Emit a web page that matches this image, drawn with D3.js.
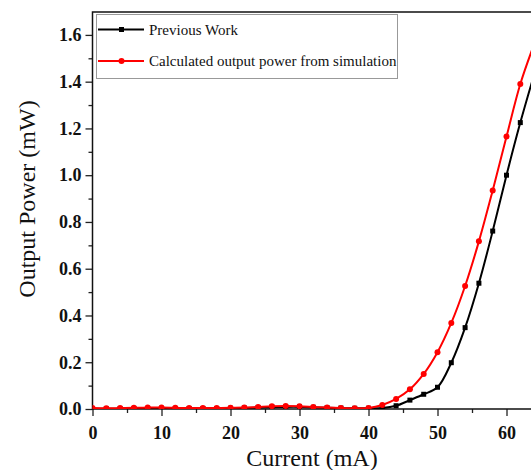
<!DOCTYPE html>
<html>
<head>
<meta charset="utf-8">
<script src="https://cdn.jsdelivr.net/npm/d3@7"></script>
<style>
  body { margin: 0; background: #fff; }
  .tickText { font-family: "Liberation Serif", serif; font-weight: bold; font-size: 18px; fill: #111; }
  .aTitle { font-family: "Liberation Serif", serif; font-size: 24px; fill: #111; }
  .legText { font-family: "Liberation Serif", serif; font-size: 15px; fill: #111; }
</style>
</head>
<body>
<div id="chart"></div>
<script>
// Data ==========================================
// current in mA, every 2 mA
var current = [0, 2, 4, 6, 8, 10, 12, 14, 16, 18, 20, 22, 24, 26, 28, 30, 32,
  34, 36, 38, 40, 42, 44, 46, 48, 50, 52, 54, 56, 58, 60, 62, 64];

// previous work (black squares)
var previousWork = [0.001, 0.001, 0.001, 0.002, 0.002, 0.002, 0.002, 0.002, 0.002,
  0.002, 0.003, 0.004, 0.006, 0.008, 0.009, 0.009, 0.007, 0.005, 0.004, 0.003,
  0.003, 0.004, 0.014, 0.038, 0.063, 0.093, 0.198, 0.348, 0.538, 0.761, 1.0,
  1.225, 1.43];

// simulation (red circles)
var simulation = [0.004, 0.003, 0.004, 0.005, 0.006, 0.006, 0.005, 0.004, 0.004,
  0.004, 0.005, 0.006, 0.009, 0.012, 0.013, 0.012, 0.009, 0.006, 0.004, 0.003,
  0.004, 0.017, 0.043, 0.084, 0.15, 0.243, 0.368, 0.526, 0.717, 0.935, 1.165,
  1.39, 1.56];

var xTicks = [0, 10, 20, 30, 40, 50, 60];
var yTicks = [0.0, 0.2, 0.4, 0.6, 0.8, 1.0, 1.2, 1.4, 1.6];

var seriesNames = ["Previous Work", "Calculated output power from simulation"];

// Canvas =========================================
var width = 531;
var height = 470;

// plot area edges (window.top is reserved, so prefix them)
var plotLeft = 92.5;
var plotRight = 531;
var plotTop = 12;
var plotBottom = 409;

var svg = d3.select("#chart")
  .append("svg")
  .attr("width", width)
  .attr("height", height);

// Scales
var xScale = d3.scaleLinear()
  .domain([0, 63.55])
  .range([plotLeft, plotRight]);

var yScale = d3.scaleLinear()
  .domain([0, 1.698])
  .range([plotBottom, plotTop]);

// clip for the curves
svg.append("clipPath")
  .attr("id", "plotClip")
  .append("rect")
  .attr("x", plotLeft)
  .attr("y", plotTop)
  .attr("width", plotRight - plotLeft)
  .attr("height", plotBottom - plotTop);

// Axes ============================================
// minor ticks first (no labels)
var xMinor = d3.axisBottom(xScale)
  .tickValues(d3.range(5, 64, 10))
  .tickSize(4)
  .tickFormat("");

var yMinor = d3.axisLeft(yScale)
  .tickValues(d3.range(0.1, 1.7, 0.2))
  .tickSize(4)
  .tickFormat("");

var xAxis = d3.axisBottom(xScale)
  .tickValues(xTicks)
  .tickSize(7)
  .tickPadding(10)
  .tickFormat(d3.format("d"));

var yAxis = d3.axisLeft(yScale)
  .tickValues(yTicks)
  .tickSize(7)
  .tickPadding(4)
  .tickFormat(d3.format(".1f"));

function styleAxis(g) {
  g.select(".domain").remove();
  g.selectAll(".tick line").attr("stroke", "#222").attr("stroke-width", 1.3);
  g.selectAll(".tick text").attr("class", "tickText");
  g.attr("font-family", null).attr("font-size", null);
}

svg.append("g")
  .attr("transform", `translate(0, ${plotBottom})`)
  .call(xMinor)
  .call(styleAxis);

svg.append("g")
  .attr("transform", `translate(${plotLeft}, 0)`)
  .call(yMinor)
  .call(styleAxis);

svg.append("g")
  .attr("transform", `translate(0, ${plotBottom})`)
  .call(xAxis)
  .call(styleAxis);

svg.append("g")
  .attr("transform", `translate(${plotLeft}, 0)`)
  .call(yAxis)
  .call(styleAxis);

// frame lines (left, bottom, top)
svg.append("path")
  .attr("d", `M${plotRight},${plotTop}H${plotLeft}V${plotBottom}H${plotRight}`)
  .attr("fill", "none")
  .attr("stroke", "#111")
  .attr("stroke-width", 1.5);

// Axis titles
svg.append("text")
  .attr("class", "aTitle")
  .attr("x", 312)
  .attr("y", 466)
  .attr("text-anchor", "middle")
  .text("Current (mA)");

svg.append("text")
  .attr("class", "aTitle")
  .attr("transform", "translate(35, 199) rotate(-90)")
  .attr("text-anchor", "middle")
  .text("Output Power (mW)");

// Curves ==========================================
var plot = svg.append("g").attr("clip-path", "url(#plotClip)");

var line = d3.line()
  .x(function(d) { return xScale(d[0]); })
  .y(function(d) { return yScale(d[1]); })
  .curve(d3.curveCatmullRom);

var blackData = current.map(function(c, i) { return [c, previousWork[i]]; });
var redData = current.map(function(c, i) { return [c, simulation[i]]; });

plot.append("path")
  .datum(blackData)
  .attr("d", line)
  .attr("fill", "none")
  .attr("stroke", "#000")
  .attr("stroke-width", 2);

plot.selectAll(".sq")
  .data(blackData)
  .enter()
  .append("rect")
  .attr("class", "sq")
  .attr("x", function(d) { return xScale(d[0]) - 2.5; })
  .attr("y", function(d) { return yScale(d[1]) - 2.5; })
  .attr("width", 5)
  .attr("height", 5)
  .attr("fill", "#000");

plot.append("path")
  .datum(redData)
  .attr("d", line)
  .attr("fill", "none")
  .attr("stroke", "#ff0000")
  .attr("stroke-width", 2);

plot.selectAll(".dot")
  .data(redData)
  .enter()
  .append("circle")
  .attr("class", "dot")
  .attr("cx", function(d) { return xScale(d[0]); })
  .attr("cy", function(d) { return yScale(d[1]); })
  .attr("r", 3)
  .attr("fill", "#ff0000");

// Legend ==========================================
var legend = svg.append("g");

legend.append("rect")
  .attr("x", 96.5)
  .attr("y", 14.5)
  .attr("width", 301)
  .attr("height", 64)
  .attr("fill", "#fff")
  .attr("stroke", "#999")
  .attr("stroke-width", 1);

var legColors = ["#000", "#ff0000"];
var legY = [29.5, 61];

seriesNames.forEach(function(name, i) {
  legend.append("line")
    .attr("x1", 98)
    .attr("x2", 144)
    .attr("y1", legY[i])
    .attr("y2", legY[i])
    .attr("stroke", legColors[i])
    .attr("stroke-width", 2);

  if (i === 0) {
    legend.append("rect")
      .attr("x", 121.5 - 2.5)
      .attr("y", legY[i] - 2.5)
      .attr("width", 5)
      .attr("height", 5)
      .attr("fill", legColors[i]);
  } else {
    legend.append("circle")
      .attr("cx", 121.5)
      .attr("cy", legY[i])
      .attr("r", 3)
      .attr("fill", legColors[i]);
  }

  legend.append("text")
    .attr("class", "legText")
    .attr("x", 149)
    .attr("y", legY[i] + 5)
    .text(name);
});
</script>
</body>
</html>
